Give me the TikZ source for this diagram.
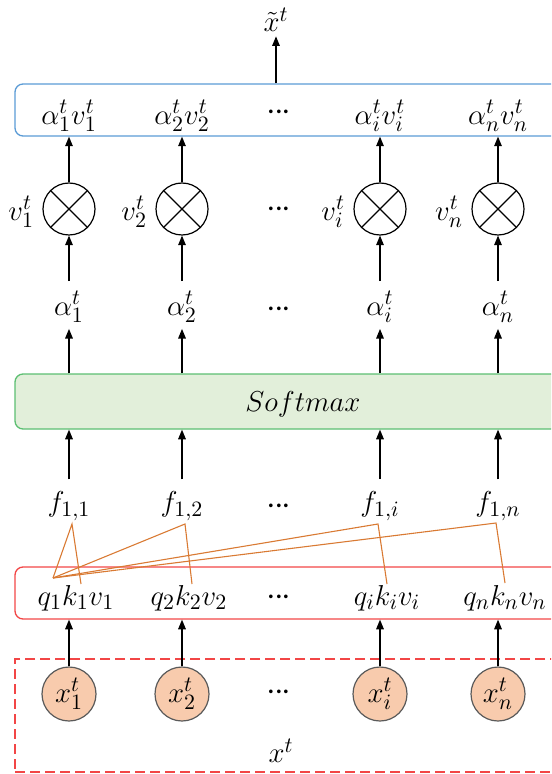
\documentclass[tikz,border=0pt]{standalone}
\usetikzlibrary{arrows.meta}
\definecolor{boxblue}{HTML}{5B9BD5}
\definecolor{boxgreen}{HTML}{5CBF72}
\definecolor{fillgreen}{HTML}{E2EFDA}
\definecolor{boxred}{HTML}{F24646}
\definecolor{linkorange}{HTML}{D97A33}
\definecolor{nodefill}{HTML}{F8CBAD}
\definecolor{nodeedge}{HTML}{5A5A5A}
% compact row of three centred dots
\newcommand{\rowdots}{{\fontsize{19}{19}\selectfont$\mathord{\cdot}\mkern-1.2mu\mathord{\cdot}\mkern-1.2mu\mathord{\cdot}$}}

\begin{document}
\begin{tikzpicture}[x=0.5pt,y=-0.5pt,
  font=\fontsize{15.5}{18}\selectfont,
  band/.style={draw, rounded corners=4pt, line width=0.65pt,
    minimum width=288pt, inner sep=0pt},
  lbl/.style={inner sep=2pt},
  dots/.style={inner sep=0pt},
  arr/.style={-{Triangle[length=4.8pt,width=3.8pt]}, line width=0.6pt},
  mult/.style={circle, draw, line width=0.6pt, minimum size=26pt, inner sep=0pt},
  inp/.style={circle, draw=nodeedge, fill=nodefill, line width=0.6pt,
    minimum size=27pt, inner sep=0pt},
  link/.style={draw=linkorange, line width=0.55pt, line join=miter}]
\useasboundingbox (0,0) rectangle (551,774);
\clip (0,0) rectangle (551,774);

% horizontal bands
\node[band, draw=boxblue, minimum height=26pt] (sum) at (303,110) {};
\node[band, draw=boxgreen, fill=fillgreen, minimum height=27.5pt] (soft) at (303,401.5) {};
\node[band, draw=boxred, minimum height=26pt] (qkv) at (303,593) {};
\node[band, draw=boxred, dashed, dash pattern=on 5pt off 2.5pt,
  rounded corners=0pt, minimum height=56.5pt] (xin) at (303,715.5) {};

\node[lbl] (softlbl) at (303,404) {$Softmax$};

% output
\node[lbl] (out) at (276,20) {$\tilde{x}^{t}$};
\draw[arr] (out |- sum.north) -- (out);

% columns
\foreach \c/\x in {1/69,2/182,i/380,n/498} {
  \node[lbl] (av\c) at (\x,116) {$\alpha_{\c}^{t}v_{\c}^{t}$};
  \node[mult] (m\c) at (\x,209) {};
  \draw[line width=0.6pt] (m\c.north west) -- (m\c.south east)
    (m\c.north east) -- (m\c.south west);
  \node[lbl, anchor=east] (v\c) at ([xshift=-2pt,yshift=-1.5pt]m\c.west) {$v_{\c}^{t}$};
  \node[lbl] (al\c) at (\x,307) {$\alpha_{\c}^{t}$};
  \node[lbl] (f\c) at (\x,506) {$f_{1,\c}$};
  \node[lbl] (q\c) at ({\x+7},598) {$q_{\c}k_{\c}v_{\c}$};
  \node[inp] (x\c) at (\x,694) {$x_{\c}^{t}$};
  \draw[arr] (x\c) -- (x\c |- qkv.south);
  \draw[arr, shorten <=4pt] (f\c) -- (f\c |- soft.south);
  \draw[arr] (al\c |- soft.north) -- ([yshift=-1pt]al\c.south);
  \draw[arr, shorten <=3pt] (al\c) -- (m\c);
  \draw[arr] (m\c) -- (m\c |- sum.south);
}

% ellipsis column
\foreach \y/\nm in {113/d1,210/d2,310/d3,507/d4,598/d5,693/d6}
  \node[dots] (\nm) at (279,\y) {\rowdots};
\node[lbl] (xlbl) at (281,751) {$x^{t}$};

% score links from q_1 to every key through f_{1,j}
\coordinate (q1pt) at (53,578);
\coordinate (p1) at (72,524);
\coordinate (p2) at (185,524);
\coordinate (pi) at (378,524);
\coordinate (pn) at (496,523);
\coordinate (k1pt) at (81,584);
\coordinate (k2pt) at (192,584);
\coordinate (kipt) at (387,584);
\coordinate (knpt) at (505,583);
\draw[link] (q1pt) -- (p1) -- (k1pt);
\draw[link] (q1pt) -- (p2) -- (k2pt);
\draw[link] (q1pt) -- (pi) -- (kipt);
\draw[link] (q1pt) -- (pn) -- (knpt);
\end{tikzpicture}
\end{document}
